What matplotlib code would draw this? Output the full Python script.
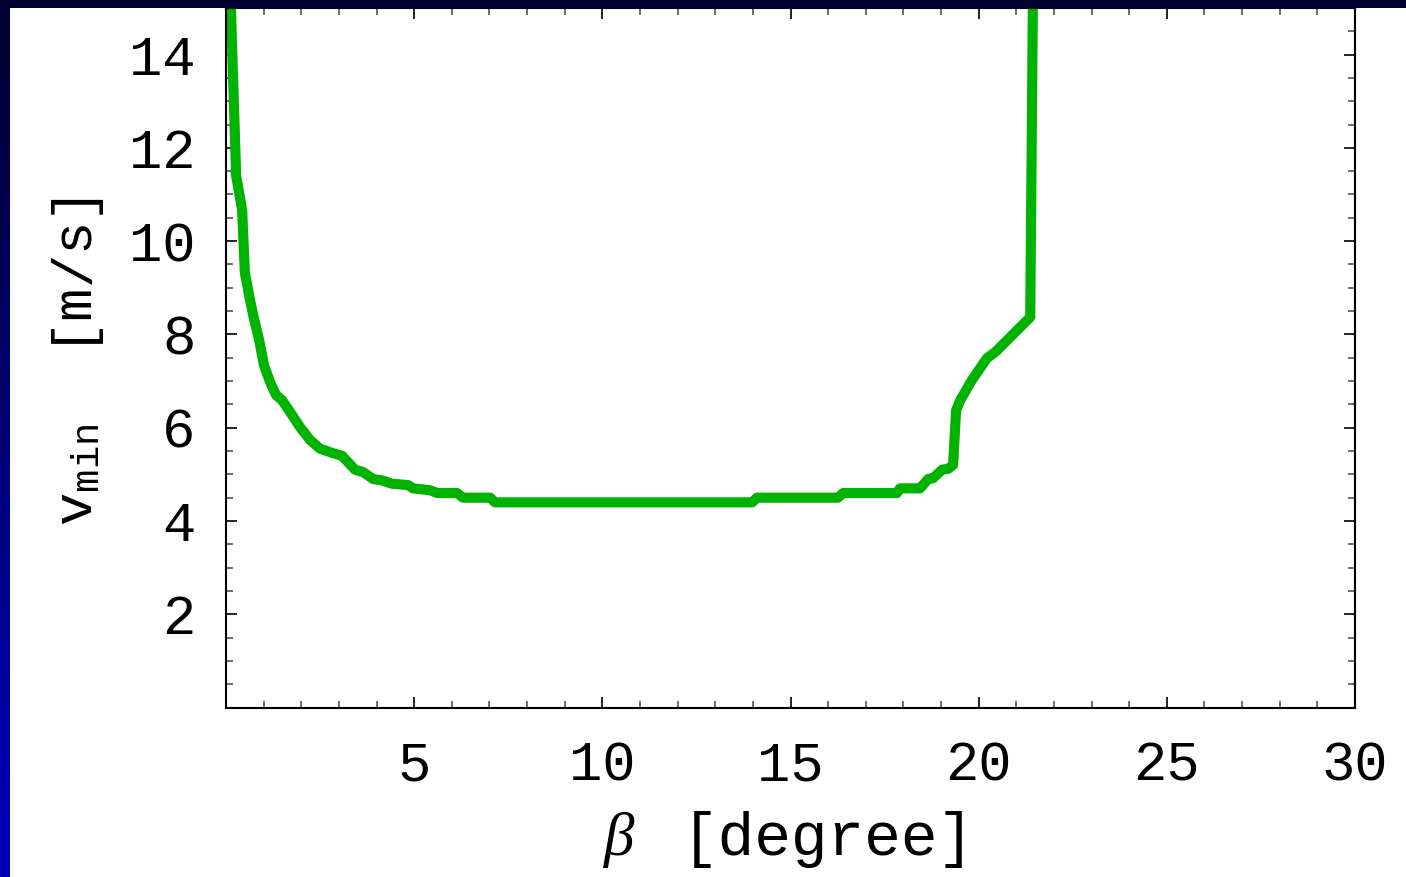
import matplotlib.pyplot as plt
from matplotlib.ticker import MultipleLocator
from matplotlib.colors import LinearSegmentedColormap
import numpy as np

plt.rcParams['mathtext.fontset'] = 'custom'
plt.rcParams['mathtext.tt'] = 'Liberation Mono'
plt.rcParams['mathtext.rm'] = 'Liberation Mono'
plt.rcParams['mathtext.it'] = 'Liberation Serif:italic'

# beta [degree] vs minimal velocity [m/s]
beta = [0.10, 0.13, 0.27, 0.43, 0.50, 0.64, 0.74, 0.88, 1.01, 1.17, 1.33, 1.49,
        1.70, 1.97, 2.23, 2.50, 2.82, 3.08, 3.43, 3.64, 3.91, 4.15, 4.41, 4.84,
        4.97, 5.42, 5.61, 6.14, 6.30, 7.02, 7.15, 13.98, 14.11, 16.26, 16.40,
        17.83, 17.91, 18.44, 18.66, 18.79, 19.03, 19.19, 19.32, 19.40, 19.51,
        19.82, 20.22, 20.44, 21.37, 21.45]
vmin = [16.0, 15.0, 11.4, 10.66, 9.33, 8.73, 8.35, 7.88, 7.34, 6.98, 6.70, 6.59,
        6.34, 6.01, 5.74, 5.55, 5.46, 5.40, 5.10, 5.05, 4.90, 4.87, 4.80, 4.77,
        4.70, 4.66, 4.60, 4.60, 4.50, 4.50, 4.40, 4.40, 4.50, 4.50, 4.60,
        4.60, 4.70, 4.70, 4.90, 4.92, 5.10, 5.12, 5.20, 6.37, 6.59,
        7.02, 7.49, 7.62, 8.37, 16.0]

xticks = [5, 10, 15, 20, 25, 30]
yticks = [2, 4, 6, 8, 10, 12, 14]

W, H = 1406, 877
fig = plt.figure(figsize=(W / 100, H / 100), dpi=100, facecolor='white')
ax = fig.add_axes([226 / W, 1 - 707.6 / H, 1129 / W, 699.7 / H])

ax.plot(beta, vmin, color='#00b300', linewidth=7.3, solid_joinstyle='round',
        solid_capstyle='butt')

ax.set_xlim(0, 30)
ax.set_ylim(0, 15)
ax.set_xticks(xticks)
ax.set_yticks(yticks)
ax.xaxis.set_minor_locator(MultipleLocator(1))
ax.yaxis.set_minor_locator(MultipleLocator(0.5))

ax.tick_params(which='both', direction='in', top=True, right=True,
               color='black', width=1.2)
ax.tick_params(which='major', length=8)
ax.tick_params(which='minor', length=5, color='#555555')
ax.tick_params(axis='y', pad=22)
ax.tick_params(axis='x', pad=24)
for lab in ax.get_xticklabels() + ax.get_yticklabels():
    lab.set_family('Liberation Mono')
    lab.set_fontsize(40)
for s in ax.spines.values():
    s.set_linewidth(1.5)

# axis labels
fig.text(620 / W, 1 - 840 / H, r'$\beta$', fontsize=44, ha='center', va='center')
fig.text(828 / W, 1 - 840 / H, '[degree]', family='Liberation Mono',
         fontsize=44, ha='center', va='center')
fig.text(78 / W, 1 - 362 / H, r'$\mathtt{v}_{\mathtt{min}}$  [m/s]',
         family='Liberation Mono', fontsize=40, rotation=90,
         ha='center', va='center')

# dark blue frame strips of the slide
navy = LinearSegmentedColormap.from_list('navy', ['#00002e', '#0000bc'])
left = fig.add_axes([0, 0, 10 / W, 1])
left.imshow(np.linspace(0, 1, 256).reshape(-1, 1), cmap=navy, aspect='auto')
left.axis('off')
top = fig.add_axes([0, 1 - 8 / H, 1, 8 / H])
top.set_facecolor('#000030')
top.set_xticks([])
top.set_yticks([])
for s in top.spines.values():
    s.set_visible(False)

fig.savefig('out.png', dpi=100, facecolor='white')
